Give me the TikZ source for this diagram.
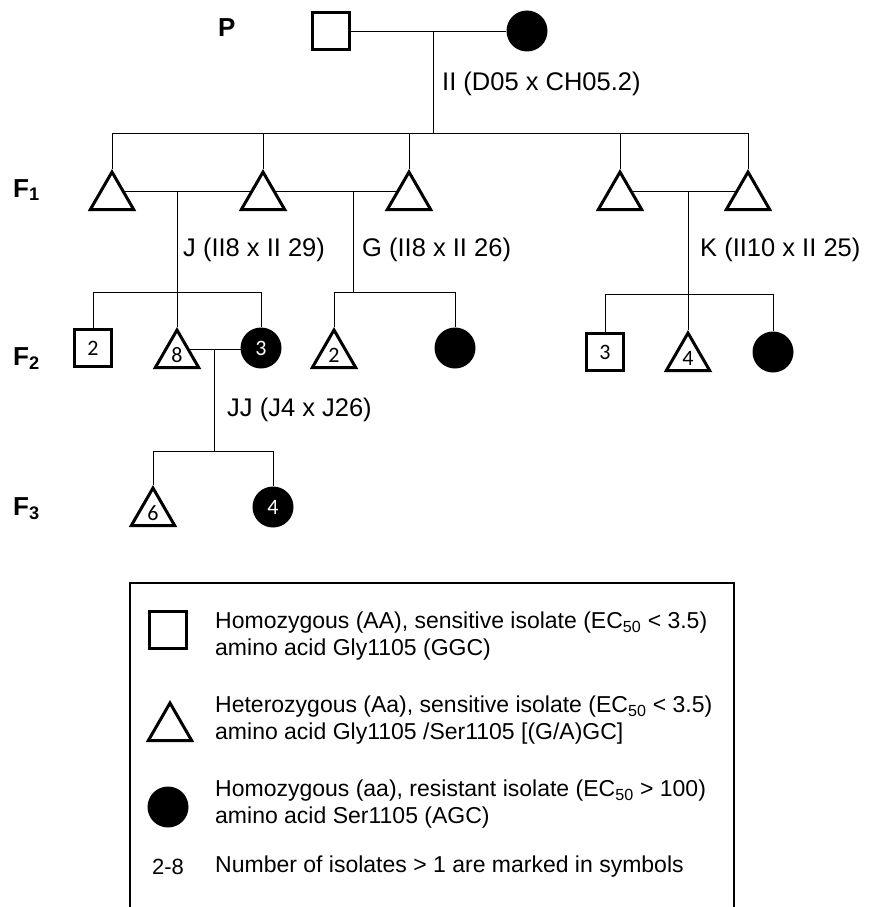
\documentclass[tikz,border=0pt]{standalone}
\usepackage{fontspec}
\setmainfont{Liberation Sans}
\newfontfamily\numfont{Carlito}
\usetikzlibrary{shapes.geometric,backgrounds}

\begin{document}
\begin{tikzpicture}[x=1pt,y=-1pt,
  conn/.style={line width=2.4pt},
  sq/.style={draw, line width=3pt, minimum size=37pt, inner sep=0pt, fill=white,
    font=\numfont\fontsize{22}{22}\selectfont},
  tri/.style={draw, regular polygon, regular polygon sides=3, line width=3pt,
    minimum size=50pt, inner sep=0pt, fill=white,
    font=\numfont\fontsize{22}{22}\selectfont},
  dot/.style={circle, fill=black, minimum size=41pt, inner sep=0pt, text=white,
    font=\numfont\fontsize{22}{22}\selectfont},
  gen/.style={anchor=base west, inner sep=0pt, font=\bfseries\fontsize{26}{26}\selectfont},
  cross/.style={anchor=west, inner sep=0pt, font=\fontsize{25.5}{30}\selectfont},
  legtext/.style={anchor=west, inner sep=0pt, align=left, font=\fontsize{23}{27}\selectfont},
]
\useasboundingbox (0,0) rectangle (868,907);

% generation labels
\node[gen] (gP)  at (218,37)  {P};
\node[gen] (gF1) at (13,197)  {F\textsubscript{1}};
\node[gen] (gF2) at (13,365)  {F\textsubscript{2}};
\node[gen] (gF3) at (13,515)  {F\textsubscript{3}};

% parents
\node[sq]  (p1) at (331,31) {};
\node[dot] (p2) at (527,31) {};

% F1 progeny
\node[tri] (a1) at (112,197) {};
\node[tri] (a2) at (263,197) {};
\node[tri] (a3) at (409,197) {};
\node[tri] (a4) at (620,197) {};
\node[tri] (a5) at (748,197) {};

% F2 progeny of cross J
\node[sq]  (j1) at (93,348)  {2};
\node[tri] (j2) at (177,355) {8};
\node[dot] (j3) at (261,348) {3};
% F2 progeny of cross G
\node[tri] (g1) at (334,355) {2};
\node[dot] (g2) at (455,348) {};
% F2 progeny of cross K
\node[sq]  (k1) at (605,352) {3};
\node[tri] (k2) at (688,358) {4};
\node[dot] (k3) at (773,352) {};

% F3 progeny of cross JJ
\node[tri] (f1) at (153,513) {6};
\node[dot] (f2) at (273,507) {4};

% mating points and sibship bars
\coordinate (mP)  at (433,31);
\coordinate (sP)  at (433,133);
\coordinate (mJ)  at (177,191);
\coordinate (sJ)  at (177,292);
\coordinate (mG)  at (353,191);
\coordinate (sG)  at (353,292);
\coordinate (mK)  at (688,191);
\coordinate (sK)  at (688,294);
\coordinate (mJJ) at (214,349);
\coordinate (sJJ) at (214,451);

\begin{scope}[on background layer, conn]
  % parental cross II
  \draw (p1) -- (p2);
  \draw (mP) -- (sP);
  \foreach \c in {a1,a2,a3,a4,a5} \draw (sP) -| (\c.north);
  % cross J
  \draw (a1.center |- mJ) -- (a2.center |- mJ);
  \draw (mJ) -- (sJ);
  \foreach \c in {j1,j2,j3} \draw (sJ) -| (\c.north);
  % cross G
  \draw (a2.center |- mG) -- (a3.center |- mG);
  \draw (mG) -- (sG);
  \foreach \c in {g1,g2} \draw (sG) -| (\c.north);
  % cross K
  \draw (a4.center |- mK) -- (a5.center |- mK);
  \draw (mK) -- (sK);
  \foreach \c in {k1,k2,k3} \draw (sK) -| (\c.north);
  % cross JJ
  \draw (j2.center |- mJJ) -- (j3.center |- mJJ);
  \draw (mJJ) -- (sJJ);
  \foreach \c in {f1,f2} \draw (sJJ) -| (\c.north);
\end{scope}

% cross labels
\node[cross] (lII) at (442,84)  {II (D05 x CH05.2)};
\node[cross] (lJ)  at (183,250) {J (II8 x II 29)};
\node[cross] (lG)  at (362,250) {G (II8 x II 26)};
\node[cross] (lK)  at (700,250) {K (II10 x II 25)};
\node[cross] (lJJ) at (227,410) {JJ (J4 x J26)};

% legend frame (open at the lower edge)
\draw[line width=2.8pt] (130,907) -- (130,583) -- (734,583) -- (734,907);

\node[sq]  (ksq)  at (168,630) {};
\node[tri] (ktri) at (170,728) {};
\node[dot] (kdot) at (168,807) {};
\node[anchor=center, inner sep=0pt, font=\fontsize{22}{22}\selectfont] (knum) at (168,867) {2-8};

\node[legtext] (t1) at (215,636) {Homozygous (AA), sensitive isolate (EC\textsubscript{50} < 3.5)\\amino acid Gly1105 (GGC)};
\node[legtext] (t2) at (215,720) {Heterozygous (Aa), sensitive isolate (EC\textsubscript{50} < 3.5)\\amino acid Gly1105 /Ser1105 [(G/A)GC]};
\node[legtext] (t3) at (215,804) {Homozygous (aa), resistant isolate (EC\textsubscript{50} > 100)\\amino acid Ser1105 (AGC)};
\node[legtext] (t4) at (215,867) {Number of isolates > 1 are marked in symbols};
\end{tikzpicture}
\end{document}
